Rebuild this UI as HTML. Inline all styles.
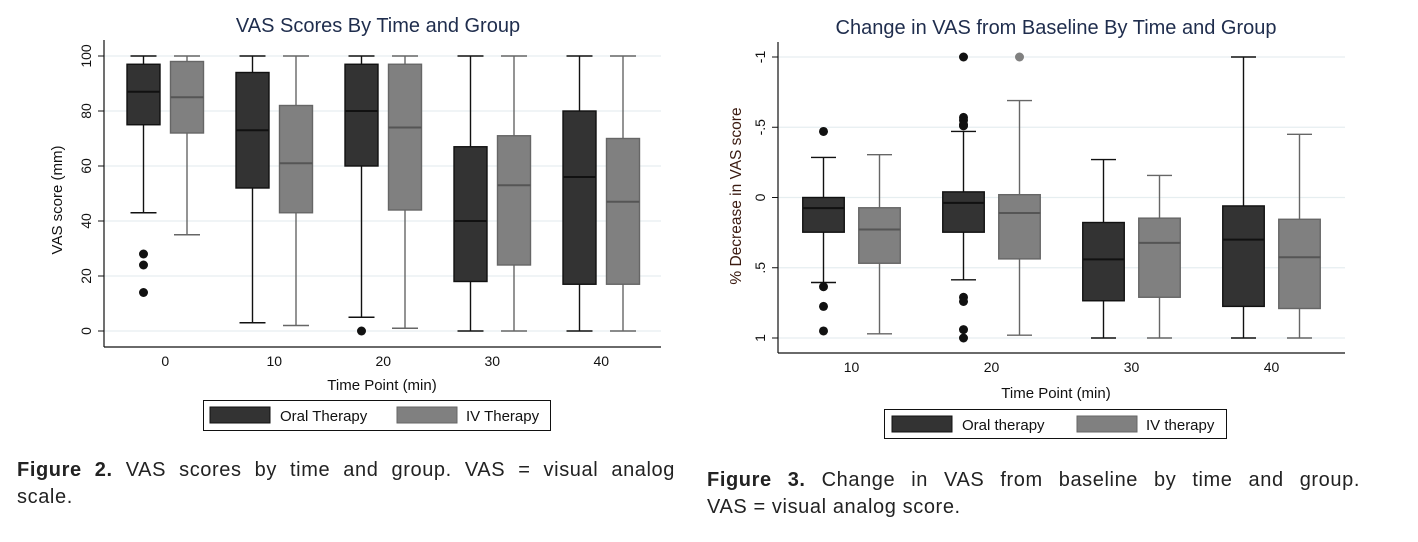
<!DOCTYPE html>
<html><head><meta charset="utf-8"><style>
body{margin:0;background:#fff;width:1418px;height:542px;overflow:hidden;font-family:"Liberation Sans",sans-serif}
.cap{position:absolute;font-size:20px;color:#222;letter-spacing:0.6px;line-height:27px}
.l1{text-align:justify;text-align-last:justify;white-space:nowrap}
</style></head><body>
<svg id="svg" width="1418" height="542" style="position:absolute;left:0;top:0" font-family="Liberation Sans, sans-serif">
<text x="378" y="32" text-anchor="middle" font-size="20" fill="#1f2d4d">VAS Scores By Time and Group</text>
<text x="1056" y="34" text-anchor="middle" font-size="20" fill="#1f2d4d">Change in VAS from Baseline By Time and Group</text>
<text transform="translate(62,200) rotate(-90)" text-anchor="middle" font-size="15" fill="#111">VAS score (mm)</text>
<text transform="translate(741,196) rotate(-90)" text-anchor="middle" font-size="15.5" fill="#3a1a10">% Decrease in VAS score</text>
<text x="382" y="390" text-anchor="middle" font-size="15" fill="#111">Time Point (min)</text>
<text x="1056" y="398" text-anchor="middle" font-size="15" fill="#111">Time Point (min)</text>
<g>
<rect x="203.5" y="400.5" width="347" height="30" fill="#fff" stroke="#111"/>
<rect x="210" y="407" width="60" height="16" fill="#333" stroke="#111"/>
<text x="280" y="421" font-size="15" fill="#111">Oral Therapy</text>
<rect x="397" y="407" width="60" height="16" fill="#808080" stroke="#666"/>
<text x="466" y="421" font-size="15" fill="#111">IV Therapy</text>
</g>
<g>
<rect x="884.5" y="409.5" width="342" height="29" fill="#fff" stroke="#111"/>
<rect x="892" y="416" width="60" height="16" fill="#333" stroke="#111"/>
<text x="962" y="430" font-size="15" fill="#111">Oral therapy</text>
<rect x="1077" y="416" width="60" height="16" fill="#808080" stroke="#666"/>
<text x="1146" y="430" font-size="15" fill="#111">IV therapy</text>
</g>
</svg>
<div class="cap" style="left:17px;top:457px;width:658px"><div class="l1"><b>Figure 2.</b> VAS scores by time and group. VAS = visual analog</div><div>scale.</div></div>
<div class="cap" style="left:707px;top:467px;width:653px"><div class="l1"><b>Figure 3.</b> Change in VAS from baseline by time and group.</div><div>VAS = visual analog score.</div></div>
<script>
// Left chart data: [low whisker, q1, median, q3, high whisker]
const leftCats = ["0","10","20","30","40"];
const leftOral = [[43,75,87,97,100],[3,52,73,94,100],[5,60,80,97,100],[0,18,40,67,100],[0,17,56,80,100]];
const leftIV = [[35,72,85,98,100],[2,43,61,82,100],[1,44,74,97,100],[0,24,53,71,100],[0,17,47,70,100]];
const leftOralOut = [[28,24,14],[],[0],[],[]];
const leftIVOut = [[],[],[],[],[]];
const leftTicks = [0,20,40,60,80,100];
// Right chart data
const rightCats = ["10","20","30","40"];
const rightOral = [[0.605,0.247,0.076,0.0,-0.285],[0.586,0.247,0.038,-0.04,-0.47],[1.0,0.735,0.44,0.178,-0.27],[1.0,0.775,0.3,0.06,-1.0]];
const rightIV = [[0.97,0.468,0.228,0.073,-0.305],[0.98,0.437,0.11,-0.02,-0.69],[1.0,0.71,0.323,0.147,-0.157],[1.0,0.79,0.425,0.155,-0.45]];
const rightOralOut = [[-0.47,0.635,0.775,0.95],[-1.0,-0.57,-0.55,-0.52,-0.51,0.71,0.74,0.94,1.0],[],[]];
const rightIVOut = [[],[-1.0],[],[]];
const rightTicks = [-1,-0.5,0,0.5,1];
const rightTickLabels = ["-1","-.5","0",".5","1"];

const svg=document.getElementById('svg');const NS='http://www.w3.org/2000/svg';
function mk(tag,attrs){const e=document.createElementNS(NS,tag);for(const k in attrs)e.setAttribute(k,attrs[k]);svg.appendChild(e);return e;}

function chart(o){
  const y=v=>o.y0+(v-o.v0)*(o.y1-o.y0)/(o.v1-o.v0);
  o.ticks.forEach((t,i)=>{
    const g=mk('line',{x1:o.ax,x2:o.right,y1:y(t),y2:y(t),stroke:'#e6eef0','stroke-width':1.2});
    
    
    const tk=mk('line',{x1:o.ax-6,x2:o.ax,y1:y(t),y2:y(t),stroke:'#111'});
    
    
    const tx=mk('text',{transform:`translate(${o.ax-13},${y(t)}) rotate(-90)`,'text-anchor':'middle','font-size':14,fill:'#111'});
    tx.textContent=o.labels[i];
    
    
  });
  const ya=mk('line',{x1:o.ax,x2:o.ax,y1:o.top,y2:o.axY,stroke:'#111','stroke-width':1.2});
  
  
  const xa=mk('line',{x1:o.ax,x2:o.right,y1:o.axY,y2:o.axY,stroke:'#111','stroke-width':1.2});
  
  
  o.cats.forEach((c,i)=>{
    const cx=o.c0+o.sp*i;
    const lb=mk('text',{x:cx+o.off/2,y:o.axY+19,'text-anchor':'middle','font-size':14,fill:'#111'});
    lb.textContent=c;
    
    
    [[o.oral[i],o.oralOut[i],cx,'#333','#111','#111'],[o.iv[i],o.ivOut[i],cx+o.off,'#808080','#666','#555']].forEach(([d,out,x,fill,stroke,med],k)=>{
      const w=o.bw,cw=o.cw;
      const nm=(k?'iv':'oral')+'-box-'+c;
      const ln=(a,b,c2,d2)=>{const l=mk('line',{x1:a,y1:b,x2:c2,y2:d2,stroke:stroke,'stroke-width':1.4});};
      ln(x,y(d[0]),x,y(d[1]));ln(x,y(d[3]),x,y(d[4]));
      ln(x-cw/2,y(d[0]),x+cw/2,y(d[0]));ln(x-cw/2,y(d[4]),x+cw/2,y(d[4]));
      const top=Math.min(y(d[1]),y(d[3])),h=Math.abs(y(d[3])-y(d[1]));
      const r=mk('rect',{x:x-w/2,y:top,width:w,height:h,fill:fill,stroke:stroke,'stroke-width':1.4});
      
      
      const m=mk('line',{x1:x-w/2,x2:x+w/2,y1:y(d[2]),y2:y(d[2]),stroke:med,'stroke-width':2});
      
      
      out.forEach(v=>{const p=mk('circle',{cx:x,cy:y(v),r:4.5,fill:k?'#808080':'#111'});
        
        });
    });
  });
}
chart({cats:leftCats,oral:leftOral,iv:leftIV,oralOut:leftOralOut,ivOut:leftIVOut,ticks:leftTicks,labels:leftTicks.map(String),
  v0:0,v1:100,y0:331,y1:56,ax:104,right:661,top:40,axY:347,c0:143.5,sp:109,off:43.5,bw:33,cw:26});
chart({cats:rightCats,oral:rightOral,iv:rightIV,oralOut:rightOralOut,ivOut:rightIVOut,ticks:rightTicks,labels:rightTickLabels,
  v0:-1,v1:1,y0:57,y1:338,ax:778,right:1345,top:42,axY:353,c0:823.5,sp:140,off:56,bw:41.5,cw:25});
</script>
</body></html>
